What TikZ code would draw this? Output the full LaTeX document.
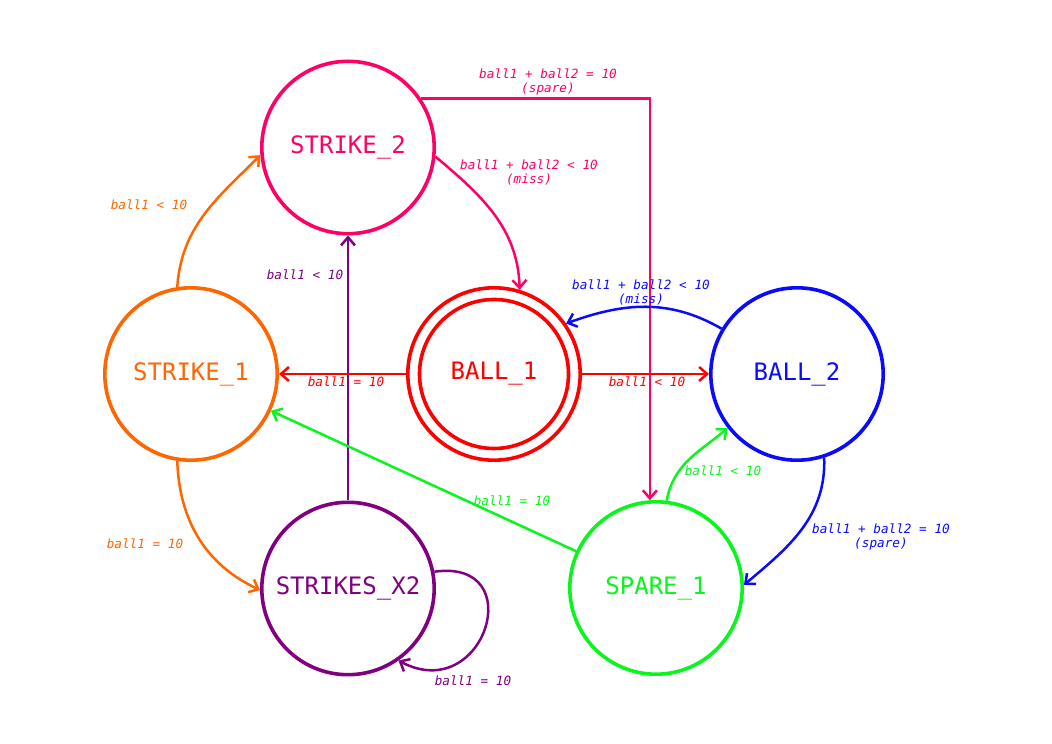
\documentclass[tikz,border=0pt]{standalone}
\usepackage{fontspec}
\newfontfamily\monofont{DejaVu Sans Mono}
\usetikzlibrary{arrows.meta}
\definecolor{cpink}{RGB}{255,0,102}
\definecolor{corange}{RGB}{255,102,0}
\definecolor{cred}{RGB}{255,0,0}
\definecolor{cblue}{RGB}{10,10,255}
\definecolor{cpurple}{RGB}{128,0,128}
\definecolor{cgreen}{RGB}{10,245,30}
\tikzset{
  state/.style={circle, draw, line width=3.6pt, minimum size=172.4pt, inner sep=0pt,
    font=\monofont\fontsize{24}{28}\selectfont},
  tr/.style={line width=2.5pt, -{Straight Barb[length=8pt,width=14pt]}},
  lbl/.style={font=\monofont\itshape\fontsize{12.7}{14}\selectfont, align=center, inner sep=0pt},
}
\begin{document}
\begin{tikzpicture}[x=1pt,y=1pt]
\useasboundingbox (0,0) rectangle (1052,744);
% states
\node[state, cpink] (s2) at (348,596.5) {STRIKE\_2};
\node[state, corange] (s1) at (191,370) {STRIKE\_1};
\node[state, cred] (b1) at (494,370) {BALL\_1};
\draw[cred, line width=3.6pt] (b1.center) circle (74.5);
\node[state, cblue] (b2) at (797,370) {BALL\_2};
\node[state, cpurple] (x2) at (348,155.5) {STRIKES\_X2};
\node[state, cgreen] (sp) at (656,156) {SPARE\_1};
% transitions
\draw[tr, cpink] (s2.34) -| (sp.94);
\draw[tr, cpink] (s2.-6) to[out=-40, in=92] (b1.73);
\draw[tr, corange] (s1.99) to[out=86, in=-135] (s2.185);
\draw[tr, cpurple] (x2) -- (s2);
\draw[tr, cred] (b1) -- (s1);
\draw[tr, cred] (b1) -- (b2);
\draw[tr, cblue] (b2.149) to[out=150, in=20] (b1.35);
\draw[tr, cblue] (b2.-72) to[out=-88, in=40] (sp.2);
\draw[tr, cgreen] (sp.83) to[out=80, in=-140] (b2.218);
\draw[tr, cgreen] (sp) -- (s1);
\draw[tr, corange] (s1.-99) to[out=-88, in=155] (x2.181);
\draw[tr, cpurple] (x2.11) to[out=8, in=-28, looseness=2.6] (x2.-55);
% labels
\node[lbl, cpink] (l1) at (548,662) {ball1 + ball2 = 10\\(spare)};
\node[lbl, cpink] (l2) at (529,572) {ball1 + ball2 < 10\\(miss)};
\node[lbl, corange] (l3) at (149,539) {ball1 < 10};
\node[lbl, cpurple] (l4) at (305,469) {ball1 < 10};
\node[lbl, cred] (l5) at (346,362) {ball1 = 10};
\node[lbl, cred] (l6) at (647,362) {ball1 < 10};
\node[lbl, cblue] (l7) at (641,452) {ball1 + ball2 < 10\\(miss)};
\node[lbl, cblue] (l8) at (881,207) {ball1 + ball2 = 10\\(spare)};
\node[lbl, cgreen] (l9) at (723,273) {ball1 < 10};
\node[lbl, cgreen] (l10) at (512,243) {ball1 = 10};
\node[lbl, corange] (l11) at (145,200) {ball1 = 10};
\node[lbl, cpurple] (l12) at (473,63) {ball1 = 10};
\end{tikzpicture}
\end{document}
